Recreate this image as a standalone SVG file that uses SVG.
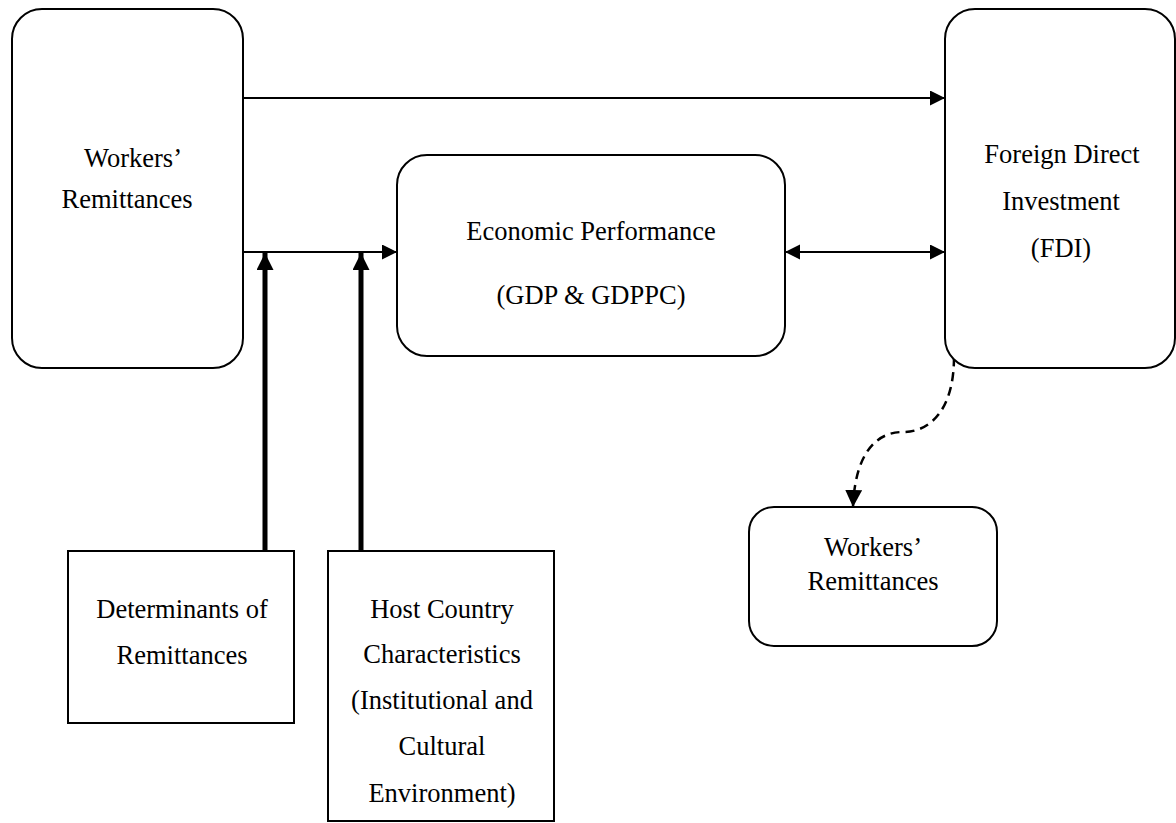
<svg xmlns="http://www.w3.org/2000/svg" width="1176" height="823" viewBox="0 0 1176 823">
<defs>
<marker id="ah" markerUnits="userSpaceOnUse" markerWidth="16" markerHeight="16" refX="15" refY="7.5" orient="auto-start-reverse">
<path d="M0,0 L15,7.5 L0,15 z" fill="#000"/>
</marker>
<marker id="ahb" markerUnits="userSpaceOnUse" markerWidth="18" markerHeight="18" refX="17" refY="8.5" orient="auto">
<path d="M0,0 L17,8.5 L0,17 z" fill="#000"/>
</marker>
</defs>
<rect width="1176" height="823" fill="#fff"/>
<g id="connectors" fill="none" stroke="#000">
<line stroke-width="2" x1="243" y1="98" x2="945" y2="98" marker-end="url(#ah)"/>
<line stroke-width="2" x1="243" y1="252" x2="397" y2="252" marker-end="url(#ah)"/>
<line stroke-width="2" x1="785" y1="252" x2="945" y2="252" marker-start="url(#ah)" marker-end="url(#ah)"/>
<line stroke-width="5" x1="265" y1="551" x2="265" y2="253" marker-end="url(#ahb)"/>
<line stroke-width="5" x1="361" y1="551" x2="361" y2="253" marker-end="url(#ahb)"/>
<path stroke-width="2.5" stroke-dasharray="9 6" d="M954,357 C954,410 930,432 903,432 C875,432 855,455 853,507" marker-end="url(#ahb)"/>
</g>
<g id="workers-remittances-main">
<rect fill="#fff" stroke="#000" stroke-width="2" x="12" y="9" width="231" height="359" rx="30"/>
<text font-family="Times New Roman, Liberation Serif, serif" font-size="26.5" text-anchor="middle" x="133" y="167">Workers’</text>
<text font-family="Times New Roman, Liberation Serif, serif" font-size="26.5" text-anchor="middle" x="127" y="208">Remittances</text>
</g>
<g id="fdi">
<rect fill="#fff" stroke="#000" stroke-width="2" x="945" y="9" width="230" height="359" rx="30"/>
<text font-family="Times New Roman, Liberation Serif, serif" font-size="26.5" text-anchor="middle" x="1062" y="163">Foreign Direct</text>
<text font-family="Times New Roman, Liberation Serif, serif" font-size="26.5" text-anchor="middle" x="1061" y="210">Investment</text>
<text font-family="Times New Roman, Liberation Serif, serif" font-size="26.5" text-anchor="middle" x="1061" y="257">(FDI)</text>
</g>
<g id="economic-performance">
<rect fill="#fff" stroke="#000" stroke-width="2" x="397" y="155" width="388" height="201" rx="30"/>
<text font-family="Times New Roman, Liberation Serif, serif" font-size="26.5" text-anchor="middle" x="591" y="240">Economic Performance</text>
<text font-family="Times New Roman, Liberation Serif, serif" font-size="26.5" text-anchor="middle" x="591" y="304">(GDP &amp; GDPPC)</text>
</g>
<g id="determinants">
<rect fill="#fff" stroke="#000" stroke-width="2" x="68" y="551" width="226" height="172"/>
<text font-family="Times New Roman, Liberation Serif, serif" font-size="26.5" text-anchor="middle" x="182" y="618">Determinants of</text>
<text font-family="Times New Roman, Liberation Serif, serif" font-size="26.5" text-anchor="middle" x="182" y="664">Remittances</text>
</g>
<g id="host-country">
<rect fill="#fff" stroke="#000" stroke-width="2" x="328" y="551" width="226" height="270"/>
<text font-family="Times New Roman, Liberation Serif, serif" font-size="26.5" text-anchor="middle" x="442" y="618">Host Country</text>
<text font-family="Times New Roman, Liberation Serif, serif" font-size="26.5" text-anchor="middle" x="442" y="663">Characteristics</text>
<text font-family="Times New Roman, Liberation Serif, serif" font-size="26.5" text-anchor="middle" x="442" y="709">(Institutional and</text>
<text font-family="Times New Roman, Liberation Serif, serif" font-size="26.5" text-anchor="middle" x="442" y="755">Cultural</text>
<text font-family="Times New Roman, Liberation Serif, serif" font-size="26.5" text-anchor="middle" x="442" y="802">Environment)</text>
</g>
<g id="workers-remittances-2">
<rect fill="#fff" stroke="#000" stroke-width="2" x="749" y="507" width="248" height="139" rx="25"/>
<text font-family="Times New Roman, Liberation Serif, serif" font-size="26.5" text-anchor="middle" x="873" y="556">Workers’</text>
<text font-family="Times New Roman, Liberation Serif, serif" font-size="26.5" text-anchor="middle" x="873" y="590">Remittances</text>
</g>
</svg>
